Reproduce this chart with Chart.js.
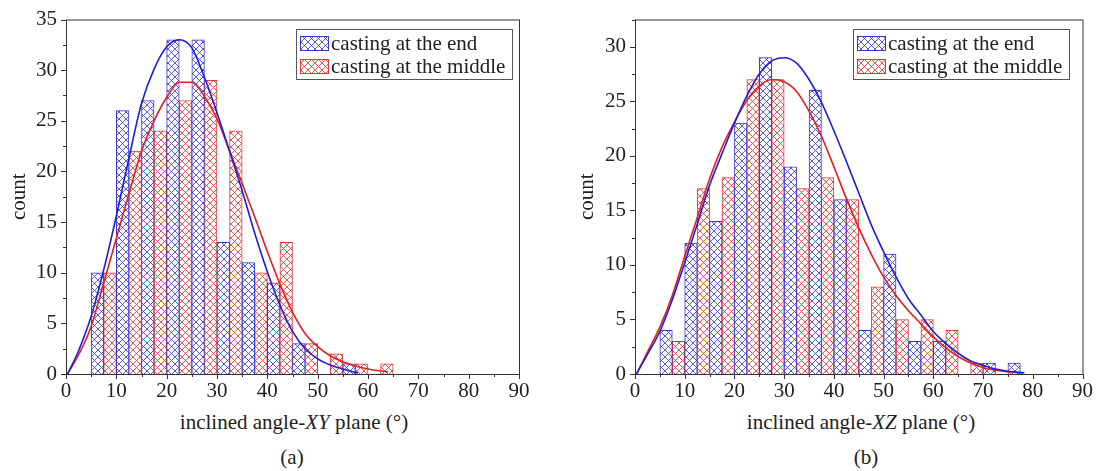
<!DOCTYPE html>
<html>
<head>
<meta charset="utf-8">
<script src="https://cdn.jsdelivr.net/npm/chart.js@4.4.1/dist/chart.umd.min.js"></script>
<style>
  html, body { margin: 0; padding: 0; background: #fff; }
  #wrap { position: relative; width: 1100px; height: 471px; overflow: hidden;
          font-family: 'Liberation Serif', 'Times New Roman', serif; color: #222; }
  .cv { position: absolute; top: 0; }
  .lbl { position: absolute; font-size: 21px; line-height: 1; white-space: nowrap; transform: translateX(-50%); }
</style>
</head>
<body>
<div id="wrap">
  <div class="cv" style="left:0"><canvas id="chartA" width="550" height="400"></canvas></div>
  <div class="cv" style="left:560px"><canvas id="chartB" width="540" height="400"></canvas></div>
  <div class="lbl" style="left:294px;top:412px">inclined angle-<i>XY</i> plane (°)</div>
  <div class="lbl" style="left:292px;top:447px">(a)</div>
  <div class="lbl" style="left:861px;top:412px">inclined angle-<i>XZ</i> plane (°)</div>
  <div class="lbl" style="left:866px;top:447px">(b)</div>
</div>
<script>
// histogram bins (start of each 5 deg bin)
const binWidth = 5;
const binStartsA = [5, 10, 15, 20, 25, 30, 35, 40, 45, 50, 55, 60];
const endCountsA = [10, 26, 27, 33, 33, 13, 11, 9, 3, 0, 1, 0];
const middleCountsA = [10, 22, 24, 27, 29, 24, 10, 13, 3, 2, 1, 1];

const binStartsB = [5, 10, 15, 20, 25, 30, 35, 40, 45, 50, 55, 60, 65, 70, 75];
const endCountsB = [4, 12, 14, 23, 29, 19, 26, 16, 4, 11, 3, 3, 0, 1, 1];
const middleCountsB = [3, 17, 18, 27, 27, 17, 18, 16, 8, 5, 5, 4, 1, 0, 0];

// fitted curves
const fitEndXA = [0.3, 2.5, 5, 7.5, 10, 12.5, 15, 17.5, 20, 22.5, 25, 27.5, 30, 32.5, 35, 37.5, 40, 42.5, 45, 47.5, 50, 52.5, 55, 58];
const fitEndYA = [0, 2.3, 5.7, 10.3, 15.6, 21.3, 26.7, 30.1, 32.3, 33.0, 32.2, 29.3, 25.8, 22.0, 18.1, 13.9, 10.1, 6.8, 4.2, 2.5, 1.5, 0.9, 0.5, 0.1];
const fitMidXA = [0.3, 2.5, 5, 7.5, 10, 12.5, 15, 17.5, 20, 22.5, 25, 27.5, 30, 32.5, 35, 37.5, 40, 42.5, 45, 47.5, 50, 52.5, 55, 57.5, 60, 64];
const fitMidYA = [0, 1.9, 4.7, 9.0, 13.4, 17.8, 22.0, 25.0, 27.3, 28.8, 28.8, 27.4, 25.2, 22.0, 18.8, 15.5, 12.1, 8.9, 6.1, 4.0, 2.7, 1.8, 1.2, 0.8, 0.5, 0.2];

const fitEndXB = [0.3, 2.5, 5, 7.5, 10, 12.5, 15, 17.5, 20, 22.5, 25, 27.5, 30, 32.5, 35, 37.5, 40, 42.5, 45, 47.5, 50, 52.5, 55, 57.5, 60, 62.5, 65, 67.5, 70, 72.5, 75, 78.3];
const fitEndYB = [0, 1.8, 3.9, 6.8, 10.2, 13.7, 17.3, 20.2, 23.0, 25.5, 27.5, 28.7, 29.0, 28.5, 27.0, 24.9, 22.3, 19.5, 16.6, 13.7, 11.2, 8.9, 6.9, 5.4, 3.9, 2.8, 1.9, 1.2, 0.8, 0.45, 0.25, 0.1];
const fitMidXB = [0.3, 2.5, 5, 7.5, 10, 12.5, 15, 17.5, 20, 22.5, 25, 27.5, 30, 32.5, 35, 37.5, 40, 42.5, 45, 47.5, 50, 52.5, 55, 57.5, 60, 62.5, 65, 67.5, 70, 72.5, 75, 78];
const fitMidYB = [0, 2.0, 4.3, 7.2, 10.8, 14.3, 17.9, 20.8, 23.1, 25.1, 26.4, 27.0, 26.8, 25.9, 24.1, 21.8, 19.0, 16.1, 13.4, 11.0, 8.9, 7.2, 5.8, 4.6, 3.4, 2.4, 1.6, 1.0, 0.6, 0.35, 0.2, 0.1];

const seriesNames = ['casting at the end', 'casting at the middle'];

const BLUE = 'rgb(30,30,215)';
const RED = 'rgb(228,30,30)';
const SERIF = "'Liberation Serif', 'Times New Roman', serif";
const labelFont = { family: SERIF, size: 21, lineHeight: 1 };

Chart.defaults.font.family = SERIF;
Chart.defaults.font.size = 21;
Chart.defaults.color = '#222';

function hatch(color) {
  const s = 7;
  const c = document.createElement('canvas');
  c.width = s; c.height = s;
  const g = c.getContext('2d');
  g.fillStyle = '#fff';
  g.fillRect(0, 0, s, s);
  g.strokeStyle = color;
  g.lineWidth = 1;
  g.beginPath();
  g.moveTo(-1, -1); g.lineTo(s + 1, s + 1);
  g.moveTo(s + 1, -1); g.lineTo(-1, s + 1);
  g.stroke();
  return g.createPattern(c, 'repeat');
}

// frame box + outward tick marks
const frameTicks = {
  id: 'frameTicks',
  afterDatasetsDraw(chart) {
    const { ctx, chartArea: a, scales } = chart;
    ctx.save();
    ctx.strokeStyle = '#333';
    ctx.lineWidth = 1;
    ctx.strokeRect(a.left + 0.5, a.top + 0.5, a.right - a.left, a.bottom - a.top);
    ctx.beginPath();
    scales.x.ticks.forEach(t => {
      const px = Math.round(scales.x.getPixelForValue(t.value)) + 0.5;
      const len = t.value % 10 === 0 ? 5 : 3;
      ctx.moveTo(px, a.bottom);
      ctx.lineTo(px, a.bottom + len);
    });
    scales.y.ticks.forEach(t => {
      const py = Math.round(scales.y.getPixelForValue(t.value)) + 0.5;
      const len = t.value % 5 === 0 ? 5 : 3;
      ctx.moveTo(a.left, py);
      ctx.lineTo(a.left - len, py);
    });
    ctx.stroke();
    ctx.restore();
  }
};

// boxed legend inside the plot
const boxLegend = {
  id: 'boxLegend',
  afterDraw(chart, args, opts) {
    const ctx = chart.ctx;
    const bars = chart.data.datasets.filter(d => d.type === 'bar');
    ctx.save();
    ctx.fillStyle = '#fff';
    ctx.fillRect(opts.x, opts.y, opts.w, opts.h);
    ctx.strokeStyle = '#555';
    ctx.lineWidth = 1;
    ctx.strokeRect(opts.x + 0.5, opts.y + 0.5, opts.w, opts.h);
    bars.forEach((d, i) => {
      const cy = opts.y + 14 + i * 23;
      ctx.fillStyle = d.backgroundColor;
      ctx.fillRect(opts.x + 4, cy - 7, 28, 14);
      ctx.strokeStyle = d.borderColor;
      ctx.strokeRect(opts.x + 4.5, cy - 6.5, 28, 14);
      ctx.fillStyle = '#222';
      ctx.font = '21px ' + SERIF;
      ctx.textBaseline = 'middle';
      ctx.fillText(d.label, opts.x + 35, cy + 1);
    });
    ctx.restore();
  }
};

function makeChart(id, cfg) {
  const ctx = document.getElementById(id).getContext('2d');
  const bar = (counts, label, line, fillLine) => ({
    type: 'bar', label, order: 1,
    data: cfg.binStarts.map((s, i) => ({ x: s + binWidth / 2, y: counts[i] || null })),
    backgroundColor: hatch(fillLine),
    borderColor: line, borderWidth: 1,
    barPercentage: 1, categoryPercentage: 1
  });
  const curve = (xs, ys, color) => ({
    type: 'line', order: 0,
    data: xs.map((x, i) => ({ x, y: ys[i] })),
    borderColor: color, borderWidth: 1.6, pointRadius: 0,
    cubicInterpolationMode: 'monotone', fill: false
  });
  return new Chart(ctx, {
    type: 'bar',
    data: {
      datasets: [
        curve(cfg.endX, cfg.endY, BLUE),
        curve(cfg.midX, cfg.midY, RED),
        bar(cfg.endCounts, seriesNames[0], 'rgb(55,55,205)', 'rgba(60,60,205,0.85)'),
        bar(cfg.midCounts, seriesNames[1], 'rgb(222,55,55)', 'rgba(222,60,60,0.85)')
      ]
    },
    options: {
      responsive: false,
      animation: false,
      layout: { padding: { left: 0, right: cfg.padRight, top: 18, bottom: 0 } },
      plugins: {
        legend: { display: false },
        tooltip: { enabled: false },
        boxLegend: cfg.legend
      },
      scales: {
        x: {
          type: 'linear', min: 0, max: 90, offset: false,
          grid: { display: false, drawTicks: false },
          border: { display: false },
          ticks: { stepSize: 5, autoSkip: false, maxRotation: 0, padding: 7,
                   font: labelFont, color: '#222',
                   callback: v => (v % 10 === 0 ? v : '') },
          afterFit: s => { s.height = 26; }
        },
        y: {
          min: 0, max: cfg.yMax,
          grid: { display: false, drawTicks: false },
          border: { display: false },
          ticks: { stepSize: 2.5, autoSkip: false, padding: 9,
                   font: labelFont, color: '#222',
                   callback: v => (v % 5 === 0 ? v : '') },
          title: { display: true, text: 'count', font: labelFont, color: '#222',
                   padding: { top: cfg.titlePad, bottom: 0 } },
          afterFit: s => { s.width = cfg.yWidth; }
        }
      }
    },
    plugins: [frameTicks, boxLegend]
  });
}

makeChart('chartA', {
  binStarts: binStartsA, endCounts: endCountsA, midCounts: middleCountsA,
  endX: fitEndXA, endY: fitEndYA, midX: fitMidXA, midY: fitMidYA,
  yMax: 35, yWidth: 66, padRight: 31, titlePad: 9,
  legend: { x: 296, y: 29, w: 216, h: 50 }
});

makeChart('chartB', {
  binStarts: binStartsB, endCounts: endCountsB, midCounts: middleCountsB,
  endX: fitEndXB, endY: fitEndYB, midX: fitMidXB, midY: fitMidYB,
  yMax: 32.5, yWidth: 75, padRight: 13, titlePad: 17,
  legend: { x: 293, y: 29, w: 216, h: 50 }
});
</script>
</body>
</html>
